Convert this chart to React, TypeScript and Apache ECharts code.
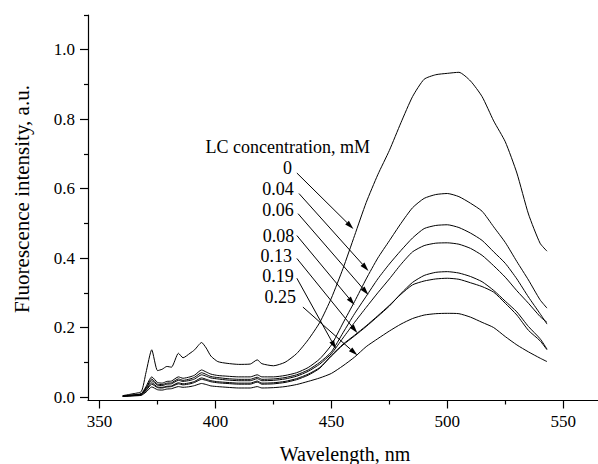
import React, { useEffect, useRef } from "react";
import * as echarts from "echarts";

const wavelengths = [360, 364, 368, 370, 372.5, 375, 377, 379, 381, 384, 386, 389, 391, 394, 396, 398, 401, 405, 410, 415, 418, 420, 425, 430, 435, 440, 445, 450, 455, 460, 465, 470, 475, 480, 485, 490, 495, 500, 505, 510, 515, 520, 525, 530, 535, 540, 543];

const lc0 = [0.004, 0.009, 0.016, 0.07, 0.136, 0.076, 0.08, 0.088, 0.086, 0.126, 0.113, 0.126, 0.136, 0.157, 0.141, 0.118, 0.102, 0.097, 0.094, 0.095, 0.107, 0.096, 0.09, 0.1, 0.125, 0.165, 0.215, 0.285, 0.37, 0.465, 0.56, 0.64, 0.71, 0.79, 0.865, 0.915, 0.928, 0.932, 0.935, 0.91, 0.865, 0.795, 0.735, 0.645, 0.527, 0.443, 0.42];
const lc004 = [0.003, 0.006, 0.01, 0.03, 0.058, 0.042, 0.04, 0.045, 0.046, 0.058, 0.054, 0.058, 0.063, 0.078, 0.072, 0.066, 0.062, 0.06, 0.058, 0.058, 0.064, 0.058, 0.058, 0.062, 0.07, 0.085, 0.11, 0.15, 0.213, 0.275, 0.34, 0.4, 0.45, 0.5, 0.545, 0.572, 0.583, 0.586, 0.577, 0.558, 0.535, 0.49, 0.445, 0.39, 0.337, 0.28, 0.256];
const lc006 = [0.003, 0.005, 0.009, 0.026, 0.052, 0.037, 0.036, 0.04, 0.041, 0.052, 0.048, 0.052, 0.057, 0.07, 0.065, 0.059, 0.056, 0.053, 0.051, 0.051, 0.057, 0.051, 0.052, 0.056, 0.064, 0.078, 0.1, 0.13, 0.185, 0.24, 0.29, 0.34, 0.383, 0.422, 0.458, 0.485, 0.494, 0.496, 0.488, 0.472, 0.451, 0.418, 0.385, 0.34, 0.288, 0.24, 0.21];
const lc008 = [0.003, 0.005, 0.008, 0.024, 0.047, 0.034, 0.033, 0.037, 0.038, 0.048, 0.045, 0.048, 0.052, 0.064, 0.06, 0.055, 0.052, 0.049, 0.047, 0.047, 0.053, 0.047, 0.048, 0.052, 0.06, 0.074, 0.095, 0.125, 0.17, 0.215, 0.258, 0.3, 0.34, 0.382, 0.418, 0.436, 0.443, 0.444, 0.44, 0.428, 0.408, 0.378, 0.345, 0.306, 0.27, 0.232, 0.215];
const lc013 = [0.002, 0.004, 0.007, 0.02, 0.041, 0.029, 0.028, 0.031, 0.032, 0.041, 0.038, 0.041, 0.045, 0.055, 0.051, 0.047, 0.044, 0.042, 0.04, 0.04, 0.046, 0.04, 0.041, 0.045, 0.053, 0.066, 0.085, 0.118, 0.15, 0.176, 0.203, 0.232, 0.262, 0.298, 0.33, 0.35, 0.359, 0.361, 0.357, 0.347, 0.332, 0.307, 0.276, 0.245, 0.203, 0.168, 0.138];
const lc019 = [0.002, 0.004, 0.006, 0.018, 0.037, 0.027, 0.026, 0.029, 0.03, 0.038, 0.035, 0.038, 0.042, 0.051, 0.048, 0.044, 0.041, 0.039, 0.037, 0.037, 0.043, 0.037, 0.038, 0.042, 0.05, 0.063, 0.083, 0.12, 0.152, 0.178, 0.205, 0.234, 0.264, 0.296, 0.323, 0.334, 0.34, 0.342, 0.339, 0.329, 0.318, 0.302, 0.27, 0.236, 0.192, 0.162, 0.136];
const lc025 = [0.002, 0.003, 0.005, 0.014, 0.029, 0.021, 0.02, 0.023, 0.024, 0.03, 0.028, 0.03, 0.033, 0.039, 0.036, 0.032, 0.03, 0.028, 0.026, 0.026, 0.03, 0.026, 0.027, 0.03, 0.036, 0.045, 0.055, 0.068, 0.09, 0.115, 0.145, 0.168, 0.19, 0.21, 0.226, 0.236, 0.24, 0.241, 0.24, 0.23, 0.215, 0.2, 0.174, 0.15, 0.13, 0.112, 0.102];

const seriesValues = [lc0, lc004, lc006, lc008, lc013, lc019, lc025];
const seriesNames = ["0", "0.04", "0.06", "0.08", "0.13", "0.19", "0.25"];

const xMajorTicks = [350, 400, 450, 500, 550];
const xMinorTicks = [375, 425, 475, 525];
const yMajorTicks = [0, 0.2, 0.4, 0.6, 0.8, 1.0];
const yMinorTicks = [0.1, 0.3, 0.5, 0.7, 0.9, 1.1];

const annotationLabels = ["0", "0.04", "0.06", "0.08", "0.13", "0.19", "0.25"];
const labelAnchors = [[433.0, 0.659], [433.8, 0.598], [433.8, 0.538], [434.0, 0.463], [433.0, 0.406], [433.8, 0.349], [434.7, 0.288]];
const arrowStarts = [[435.1, 0.645], [436.0, 0.586], [435.6, 0.528], [435.1, 0.465], [435.1, 0.399], [435.1, 0.342], [437.7, 0.259]];
const arrowEnds = [[459.5, 0.484], [466.0, 0.363], [466.0, 0.294], [460.0, 0.265], [461.2, 0.184], [452.0, 0.138], [461.2, 0.12]];
const headerText = "LC concentration, mM";
const headerAnchor = [431.2, 0.719];

const xTitle = "Wavelength, nm";
const yTitle = "Fluorescence intensity, a.u.";

const FONT = '"Liberation Serif", "Times New Roman", serif';

export default function App() {
  const ref = useRef<HTMLDivElement>(null);
  useEffect(() => {
    if (!ref.current) return;
    const chart = echarts.init(ref.current, null, { renderer: "svg" });
    const xBase = { type: "value", min: 345, max: 565, gridIndex: 0, position: "bottom", splitLine: { show: false } };
    const yBase = { type: "value", min: -0.01, max: 1.1, gridIndex: 0, position: "left", splitLine: { show: false } };
    const lineSeries = seriesValues.map((vals, si) => ({
      type: "line",
      name: seriesNames[si],
      xAxisIndex: 0,
      yAxisIndex: 0,
      data: wavelengths.map((w, i) => [w, vals[i]]),
      showSymbol: false,
      symbol: "none",
      smooth: 0.2,
      lineStyle: { color: "#000", width: 1 },
      silent: true,
      z: 3,
    }));
    const arrowData = annotationLabels.map((_, i) => [
      labelAnchors[i][0], labelAnchors[i][1],
      arrowStarts[i][0], arrowStarts[i][1],
      arrowEnds[i][0], arrowEnds[i][1],
    ]);
    chart.setOption({
      animation: false,
      grid: { left: 88, top: 15, width: 511.5, height: 385.5, containLabel: false },
      xAxis: [
        {
          ...xBase,
          axisLine: { show: true, onZero: false, lineStyle: { color: "#000", width: 1.2 } },
          axisTick: { show: true, customValues: xMajorTicks, length: 8, lineStyle: { color: "#000", width: 1.2 } },
          axisLabel: { customValues: xMajorTicks, margin: 12, color: "#000", fontSize: 17, fontFamily: FONT },
        },
        {
          ...xBase,
          axisLine: { show: false, onZero: false },
          axisTick: { show: true, customValues: xMinorTicks, length: 4, lineStyle: { color: "#000", width: 1.2 } },
          axisLabel: { show: false },
        },
      ],
      yAxis: [
        {
          ...yBase,
          axisLine: { show: true, onZero: false, lineStyle: { color: "#000", width: 1.2 } },
          axisTick: { show: true, customValues: yMajorTicks, length: 8, lineStyle: { color: "#000", width: 1.2 } },
          axisLabel: {
            customValues: yMajorTicks,
            margin: 13,
            color: "#000",
            fontSize: 17,
            fontFamily: FONT,
            formatter: (v: number) => v.toFixed(1),
          },
        },
        {
          ...yBase,
          axisLine: { show: false, onZero: false },
          axisTick: { show: true, customValues: yMinorTicks, length: 4, lineStyle: { color: "#000", width: 1.2 } },
          axisLabel: { show: false },
        },
      ],
      series: [
        ...lineSeries,
        {
          type: "custom",
          xAxisIndex: 0,
          yAxisIndex: 0,
          silent: true,
          z: 4,
          data: arrowData,
          renderItem: (params: any, api: any) => {
            const l = api.coord([api.value(0), api.value(1)]);
            const s = api.coord([api.value(2), api.value(3)]);
            const e = api.coord([api.value(4), api.value(5)]);
            const ang = Math.atan2(e[1] - s[1], e[0] - s[0]);
            const len = 9;
            const hw = 2.6;
            const bx = e[0] - len * Math.cos(ang);
            const by = e[1] - len * Math.sin(ang);
            const px = -Math.sin(ang) * hw;
            const py = Math.cos(ang) * hw;
            return {
              type: "group",
              children: [
                { type: "line", shape: { x1: s[0], y1: s[1], x2: bx, y2: by }, style: { stroke: "#000", lineWidth: 1 } },
                { type: "polygon", shape: { points: [[e[0], e[1]], [bx + px, by + py], [bx - px, by - py]] }, style: { fill: "#000" } },
                {
                  type: "text",
                  x: l[0],
                  y: l[1],
                  style: { text: annotationLabels[params.dataIndex], align: "right", verticalAlign: "middle", font: `18px ${FONT}`, fill: "#000" },
                },
              ],
            };
          },
        },
        {
          type: "custom",
          xAxisIndex: 0,
          yAxisIndex: 0,
          silent: true,
          z: 4,
          data: [headerAnchor],
          renderItem: (params: any, api: any) => {
            const p = api.coord([api.value(0), api.value(1)]);
            return {
              type: "text",
              x: p[0],
              y: p[1],
              style: { text: headerText, align: "center", verticalAlign: "middle", font: `18px ${FONT}`, fill: "#000" },
            };
          },
        },
      ],
      graphic: [
        {
          type: "text",
          x: 22,
          y: 199,
          rotation: Math.PI / 2,
          style: { text: yTitle, align: "center", verticalAlign: "middle", font: `21px ${FONT}`, fill: "#000" },
        },
        {
          type: "text",
          x: 345,
          y: 454,
          style: { text: xTitle, align: "center", verticalAlign: "middle", font: `20px ${FONT}`, fill: "#000" },
        },
      ],
    });
    return () => chart.dispose();
  }, []);
  return (
    <div
      ref={ref}
      style={{ position: "fixed", left: 0, top: 0, width: 598, height: 464, background: "#fff" }}
    />
  );
}
